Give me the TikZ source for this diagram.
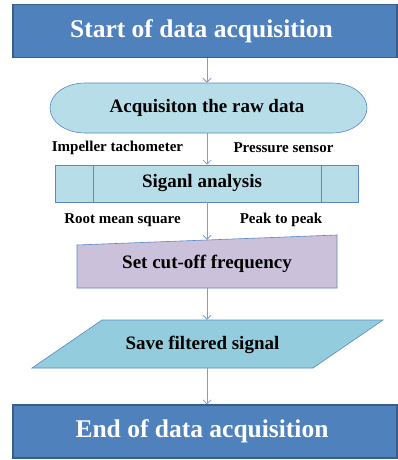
\documentclass[tikz,border=0pt]{standalone}
\usepackage{fontspec}
\setmainfont{Liberation Serif}
\usetikzlibrary{arrows.meta}
\definecolor{bluefill}{HTML}{4F81BD}
\definecolor{blueedge}{HTML}{385D8A}
\definecolor{lightfill}{HTML}{B7DEE8}
\definecolor{midfill}{HTML}{93CDDD}
\definecolor{lilac}{HTML}{CCC1DA}
\definecolor{edgeblue}{HTML}{5B87C4}
\definecolor{arrowblue}{HTML}{7BA0CD}
\begin{document}
\begin{tikzpicture}[x=1pt,y=-1pt,
  bigbox/.style={draw=blueedge, line width=1.2pt, fill=bluefill, text=white, font=\fontsize{25.5}{28}\selectfont\bfseries, minimum width=384pt, minimum height=53pt, inner sep=0pt},
  shapebox/.style={draw=edgeblue, line width=0.6pt, font=\fontsize{19}{22}\selectfont\bfseries, inner sep=0pt},
  shapeline/.style={draw=edgeblue, line width=0.6pt},
  lbl/.style={font=\fontsize{15}{18}\selectfont\bfseries, inner sep=0pt},
  hidden/.style={draw=none, inner sep=0pt, font=\fontsize{19}{22}\selectfont\bfseries},
  arr/.style={draw=arrowblue, line width=0.8pt, -{Straight Barb[length=4pt,width=8pt]}}]
\useasboundingbox (0,0) rectangle (397,460);
\fill[white] (0,0) rectangle (397,460);
% start
\node[bigbox] (start) at (205,31) {\hspace*{-7pt}Start of data acquisition};
% stadium with elliptical ends
\filldraw[shapeline, fill=lightfill] (85,83) -- (332,83)
  .. controls (351.3,83) and (367,94.2) .. (367,108)
  .. controls (367,121.8) and (351.3,133) .. (332,133)
  -- (85,133)
  .. controls (65.7,133) and (50,121.8) .. (50,108)
  .. controls (50,94.2) and (65.7,83) .. (85,83) -- cycle;
\node[hidden, minimum width=317pt, minimum height=50pt] (raw) at (207,108) {Acquisiton the raw data};
% labels
\node[lbl] (l1) at (117.5,148) {Impeller tachometer};
\node[lbl] (l2) at (283.5,148) {Pressure sensor};
% signal analysis
\node[shapebox, fill=lightfill, minimum width=303pt, minimum height=37pt] (sig) at (207,183.5) {\hspace*{-10pt}Siganl analysis};
\draw[shapeline] ([xshift=38pt]sig.north west) -- ([xshift=38pt]sig.south west);
\draw[shapeline] ([xshift=-38pt]sig.north east) -- ([xshift=-38pt]sig.south east);
\node[lbl] (l3) at (122.5,220) {Root mean square};
\node[lbl] (l4) at (281,220) {Peak to peak};
% manual input
\filldraw[shapeline, fill=lilac] (77,245) -- (337,235) -- (337,288) -- (77,288) -- cycle;
\node[hidden, minimum width=160pt, minimum height=48pt] (cut) at (207,264) {Set cut-off frequency};
% parallelogram
\filldraw[shapeline, fill=midfill] (102,320) -- (383,320) -- (313,368) -- (32,368) -- cycle;
\node[hidden, minimum width=160pt, minimum height=48pt] (save) at (207,344) {};
\node[hidden] (savetxt) at (202.5,345) {Save filtered signal};
% end
\node[bigbox] (end) at (205,431.5) {\hspace*{-6pt}End of data acquisition};
% arrows
\draw[arr] (start.south -| raw.north) -- (raw.north);
\draw[arr] (raw.south) -- (raw.south |- sig.north);
\draw[arr] (sig.south) -- (cut.north);
\draw[arr] (cut.south) -- (save.north);
\draw[arr] (save.south) -- (save.south |- end.north);
\end{tikzpicture}
\end{document}
